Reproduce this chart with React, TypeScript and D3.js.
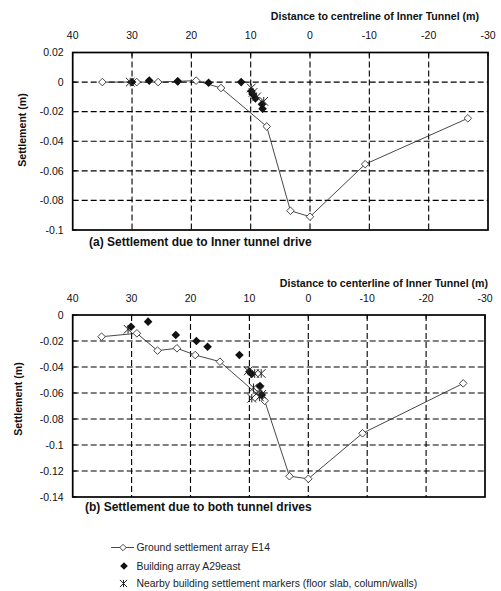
import React from "react";
import * as d3 from "d3";

// ---------- Data ----------
// (a) Inner tunnel drive
const groundA: [number, number][] = [
  [35, 0], [29.2, 0], [25.6, 0], [22.3, 0.0005], [19.2, 0.001], [15, -0.004],
  [7.3, -0.03], [3.3, -0.087], [0, -0.091], [-9.3, -0.0555], [-26.6, -0.0245],
];
const buildingA: [number, number][] = [
  [30.0, 0], [27.1, 0.001], [22.3, 0.0005], [17.1, -0.0005], [11.6, 0],
  [9.9, -0.006], [9.7, -0.008], [9.2, -0.011], [8.1, -0.015], [8.0, -0.018],
];
const markersA: [number, number][] = [
  [30.3, 0], [9.9, -0.004], [9.6, -0.007], [9.0, -0.01], [7.8, -0.013],
];

// (b) Both tunnel drives
const groundB: [number, number][] = [
  [35.1, -0.0167], [29.1, -0.0141], [25.6, -0.0274], [22.3, -0.0256],
  [19.2, -0.0308], [15.0, -0.0359], [7.4, -0.066], [3.2, -0.124],
  [0, -0.126], [-9.2, -0.091], [-26.3, -0.0526],
];
const buildingB: [number, number][] = [
  [30.1, -0.009], [27.2, -0.0051], [22.5, -0.0154], [19.0, -0.02], [17.1, -0.0244],
  [11.7, -0.0308], [10.0, -0.0436], [9.6, -0.0454], [8.2, -0.0546], [7.9, -0.0615],
];
const markersB: [number, number][] = [
  [30.6, -0.011], [10.2, -0.043], [9.1, -0.045], [8.0, -0.045], [9.3, -0.056],
  [8.2, -0.058], [9.6, -0.064], [7.9, -0.061], [8.3, -0.063],
];

const xTicks = [40, 30, 20, 10, 0, -10, -20, -30];
const yTicksA = [0.02, 0, -0.02, -0.04, -0.06, -0.08, -0.1];
const yTicksB = [0, -0.02, -0.04, -0.06, -0.08, -0.1, -0.12, -0.14];

const xTitleA = "Distance to centreline of Inner Tunnel (m)";
const xTitleB = "Distance to centerline of Inner Tunnel (m)";
const yTitle = "Settlement (m)";
const captionA = "(a) Settlement due to Inner tunnel drive";
const captionB = "(b) Settlement due to both tunnel drives";
const legendLabels = [
  "Ground settlement array E14",
  "Building array A29east",
  "Nearby building settlement markers (floor slab, column/walls)",
];

const FONT = "'Liberation Sans', Arial, Helvetica, sans-serif";

const fmtY = (v: number) => (v === 0 ? "0" : String(Math.round(v * 1000) / 1000));

function OpenDiamond({ x, y, r = 3.8 }: { x: number; y: number; r?: number }) {
  return (
    <path
      d={`M${x},${y - r}L${x + r},${y}L${x},${y + r}L${x - r},${y}Z`}
      fill="#fff"
      stroke="#333"
      strokeWidth={0.9}
    />
  );
}
function FilledDiamond({ x, y, r = 4.3 }: { x: number; y: number; r?: number }) {
  return <path d={`M${x},${y - r}L${x + r},${y}L${x},${y + r}L${x - r},${y}Z`} fill="#111" />;
}
function Star({ x, y, r = 4.3 }: { x: number; y: number; r?: number }) {
  return (
    <path
      d={`M${x - r},${y - r}L${x + r},${y + r}M${x - r},${y + r}L${x + r},${y - r}M${x},${y - r}L${x},${y + r}`}
      stroke="#222"
      strokeWidth={1}
      fill="none"
    />
  );
}

interface PanelProps {
  x0: number;
  x1: number;
  y0: number;
  y1: number;
  yDomain: [number, number];
  yTicks: number[];
  ground: [number, number][];
  building: [number, number][];
  markers: [number, number][];
  xTitle: string;
  xTitleRight: number;
  xTitleY: number;
  xTickY: number;
  yTitleX: number;
  yTitleY: number;
  caption: string;
  captionX: number;
  captionY: number;
}

function Panel(p: PanelProps) {
  const xs = d3.scaleLinear().domain([40, -30]).range([p.x0, p.x1]);
  const ys = d3.scaleLinear().domain(p.yDomain).range([p.y0, p.y1]);
  const line = d3
    .line<[number, number]>()
    .x((d) => xs(d[0]))
    .y((d) => ys(d[1]));
  return (
    <g>
      {xTicks.slice(1, -1).map((t) => (
        <line
          key={"gx" + t}
          x1={xs(t)}
          x2={xs(t)}
          y1={p.y0}
          y2={p.y1}
          stroke="#000"
          strokeWidth={1.1}
          strokeDasharray="6,3"
        />
      ))}
      {p.yTicks.slice(1, -1).map((t) => (
        <line
          key={"gy" + t}
          x1={p.x0}
          x2={p.x1}
          y1={ys(t)}
          y2={ys(t)}
          stroke="#000"
          strokeWidth={1.1}
          strokeDasharray="6,3"
        />
      ))}
      <rect
        x={p.x0}
        y={p.y0}
        width={p.x1 - p.x0}
        height={p.y1 - p.y0}
        fill="none"
        stroke="#000"
        strokeWidth={1.7}
      />
      {p.yTicks.map((t) => (
        <line key={"ty" + t} x1={p.x0} x2={p.x0 + 4} y1={ys(t)} y2={ys(t)} stroke="#000" strokeWidth={1} />
      ))}
      {xTicks.map((t) => (
        <line key={"tx" + t} x1={xs(t)} x2={xs(t)} y1={p.y0} y2={p.y0 + 4} stroke="#000" strokeWidth={1} />
      ))}
      {xTicks.map((t) => (
        <text
          key={"lx" + t}
          x={xs(t)}
          y={p.xTickY}
          textAnchor="middle"
          fontSize={10.5}
          fontFamily={FONT}
          fill="#111"
        >
          {t}
        </text>
      ))}
      {p.yTicks.map((t) => (
        <text
          key={"ly" + t}
          x={p.x0 - 9}
          y={ys(t)}
          dy="0.35em"
          textAnchor="end"
          fontSize={10.5}
          fontFamily={FONT}
          fill="#111"
        >
          {fmtY(t)}
        </text>
      ))}
      <text
        x={p.xTitleRight}
        y={p.xTitleY}
        textAnchor="end"
        fontSize={10.6}
        fontWeight="bold"
        fontFamily={FONT}
        fill="#111"
      >
        {p.xTitle}
      </text>
      <text
        transform={`translate(${p.yTitleX},${p.yTitleY}) rotate(-90)`}
        textAnchor="middle"
        dy="0.35em"
        fontSize={10.6}
        fontWeight="bold"
        fontFamily={FONT}
        fill="#111"
      >
        {yTitle}
      </text>
      <path d={line(p.ground) || ""} fill="none" stroke="#333" strokeWidth={0.9} />
      {p.ground.map((d, i) => (
        <OpenDiamond key={"g" + i} x={xs(d[0])} y={ys(d[1])} />
      ))}
      {p.building.map((d, i) => (
        <FilledDiamond key={"b" + i} x={xs(d[0])} y={ys(d[1])} />
      ))}
      {p.markers.map((d, i) => (
        <Star key={"m" + i} x={xs(d[0])} y={ys(d[1])} />
      ))}
      <text
        x={p.captionX}
        y={p.captionY}
        fontSize={12}
        fontWeight="bold"
        fontFamily={FONT}
        fill="#111"
      >
        {p.caption}
      </text>
    </g>
  );
}

export default function App() {
  return (
    <svg
      width={501}
      height={591}
      viewBox="0 0 501 591"
      style={{ position: "absolute", left: 0, top: 0, background: "#fff" }}
    >
      <rect x={0} y={0} width={501} height={591} fill="#fff" />
      <Panel
        x0={72.7}
        x1={488}
        y0={52.5}
        y1={230}
        yDomain={[0.02, -0.1]}
        yTicks={yTicksA}
        ground={groundA}
        building={buildingA}
        markers={markersA}
        xTitle={xTitleA}
        xTitleRight={479}
        xTitleY={20}
        xTickY={39}
        yTitleX={22.5}
        yTitleY={130}
        caption={captionA}
        captionX={89}
        captionY={246}
      />
      <Panel
        x0={72.7}
        x1={485}
        y0={315}
        y1={497}
        yDomain={[0, -0.14]}
        yTicks={yTicksB}
        ground={groundB}
        building={buildingB}
        markers={markersB}
        xTitle={xTitleB}
        xTitleRight={488}
        xTitleY={287}
        xTickY={302}
        yTitleX={18.5}
        yTitleY={399}
        caption={captionB}
        captionX={85}
        captionY={511}
      />
      <g fontFamily={FONT} fontSize={10.4} fill="#222">
        <line x1={111} x2={134} y1={547.5} y2={547.5} stroke="#333" strokeWidth={0.9} />
        <OpenDiamond x={123} y={547.5} r={3.2} />
        <text x={136.5} y={547.5} dy="0.35em">{legendLabels[0]}</text>
        <FilledDiamond x={124} y={566} r={3.8} />
        <text x={136.5} y={566} dy="0.35em">{legendLabels[1]}</text>
        <Star x={123.5} y={583.5} r={3.6} />
        <text x={136.5} y={583.5} dy="0.35em">{legendLabels[2]}</text>
      </g>
    </svg>
  );
}
